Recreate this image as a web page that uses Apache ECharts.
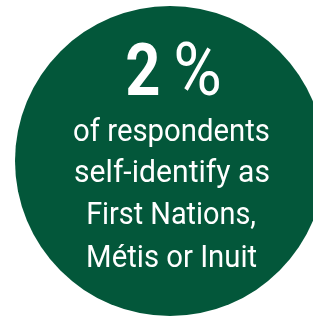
<!DOCTYPE html>
<html>
<head>
<meta charset="utf-8">
<script src="https://cdn.jsdelivr.net/npm/echarts@6/dist/echarts.min.js"></script>
<style>
  html, body { margin: 0; padding: 0; background: #fff; }
  #chart { width: 313px; height: 319px; }
</style>
</head>
<body>
<div id="chart"></div>
<script>
// share of respondents
const percent = 2
const headline = ['2', '%']
const captionLines = ['of respondents', 'self-identify as', 'First Nations,', 'Métis or Inuit']

// where each piece of text sits in the picture: [left, right, baseline, top]
const headlineBoxes = [[127, 159, 98, 45], [176, 219, 98, 45]]
const captionBoxes = [[74, 269, 142, 120], [75, 269, 183, 161], [88, 255, 225, 203], [88, 257, 268, 246]]

const green = '#03573a'
const chart = echarts.init(document.getElementById('chart'))

const ctx = document.createElement('canvas').getContext('2d')
ctx.textAlign = 'center'

// condensed look: size Roboto to the ink height, then squeeze it to the ink width
function fitText(text, box, weight, refChar) {
  ctx.font = weight + ' 100px Roboto'
  const h = ctx.measureText(refChar || text).actualBoundingBoxAscent
  const fontSize = Math.round(100 * (box[2] - box[3]) / h)
  const font = weight + ' ' + fontSize + 'px Roboto'
  ctx.font = font
  const m = ctx.measureText(text)
  const inkW = m.actualBoundingBoxLeft + m.actualBoundingBoxRight
  const sx = (box[1] - box[0]) / inkW
  const off = (m.actualBoundingBoxRight - m.actualBoundingBoxLeft) / 2 * sx
  return {
    type: 'text',
    x: (box[0] + box[1]) / 2 - off,
    y: box[2] - 0.292 * fontSize,
    scaleX: sx,
    z: 100,
    silent: true,
    style: {
      text: text,
      fill: '#fff',
      font: font,
      textAlign: 'center',
      textVerticalAlign: 'middle'
    }
  }
}

const texts = [
  fitText(headline[0], headlineBoxes[0], 'bold'),
  fitText(headline[1], headlineBoxes[1], 'normal')
].concat(captionLines.map((t, i) => fitText(t, captionBoxes[i], 'normal', 'H')))

chart.setOption({
  animation: false,
  series: [{
    type: 'pie',
    silent: true,
    center: [170, 161],
    radius: 155,
    label: { show: false },
    labelLine: { show: false },
    itemStyle: { color: green, borderWidth: 0 },
    data: [{ value: 100, name: percent + '%' }]
  }],
  graphic: texts
})
</script>
</body>
</html>
